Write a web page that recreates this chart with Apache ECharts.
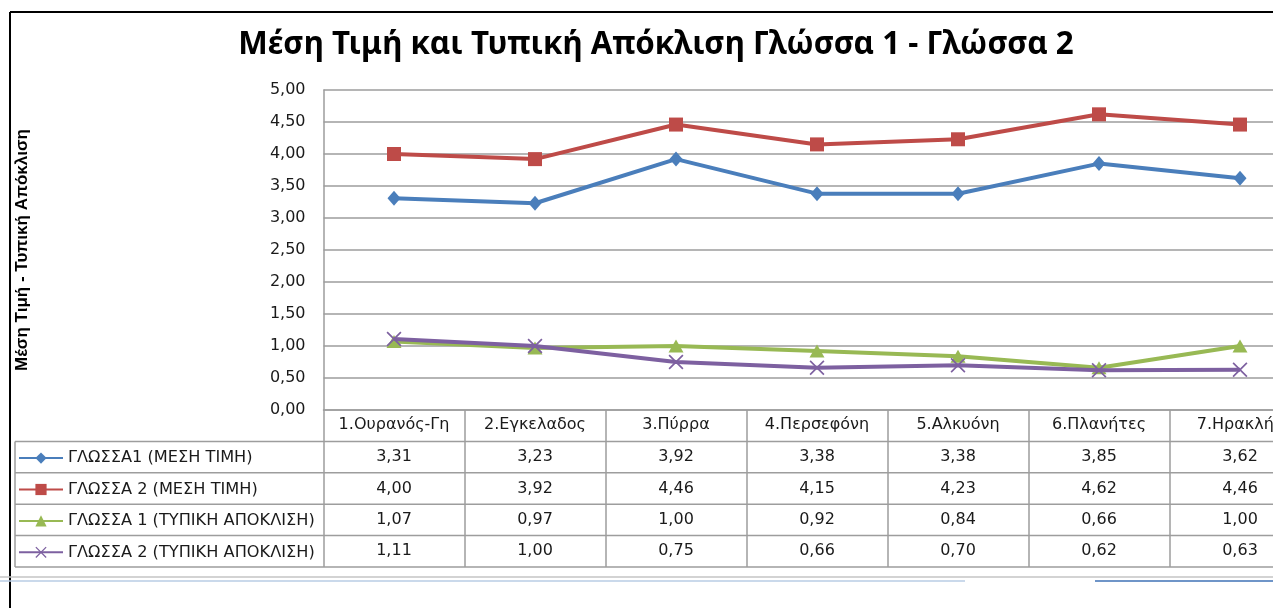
<!DOCTYPE html>
<html>
<head>
<meta charset="utf-8">
<script src="https://cdn.jsdelivr.net/npm/echarts@6/dist/echarts.min.js"></script>
<style>
  html, body { margin: 0; padding: 0; background: #ffffff; }
  #chart { width: 1273px; height: 608px; }
</style>
</head>
<body>
<div id="chart"></div>
<script>
// Categories (schools) and the four series shown in the chart and its data table
const categories = ['1.Ουρανός-Γη', '2.Εγκελαδος', '3.Πύρρα', '4.Περσεφόνη', '5.Αλκυόνη', '6.Πλανήτες', '7.Ηρακλής'];
const seriesNames = ['ΓΛΩΣΣΑ1 (ΜΕΣΗ ΤΙΜΗ)', 'ΓΛΩΣΣΑ 2 (ΜΕΣΗ ΤΙΜΗ)', 'ΓΛΩΣΣΑ 1 (ΤΥΠΙΚΗ ΑΠΟΚΛΙΣΗ)', 'ΓΛΩΣΣΑ 2 (ΤΥΠΙΚΗ ΑΠΟΚΛΙΣΗ)'];
const glossa1Mean = [3.31, 3.23, 3.92, 3.38, 3.38, 3.85, 3.62];
const glossa2Mean = [4.00, 3.92, 4.46, 4.15, 4.23, 4.62, 4.46];
const glossa1Sd   = [1.07, 0.97, 1.00, 0.92, 0.84, 0.66, 1.00];
const glossa2Sd   = [1.11, 1.00, 0.75, 0.66, 0.70, 0.62, 0.63];
const titleText = 'Μέση Τιμή και Τυπική Απόκλιση Γλώσσα 1 - Γλώσσα 2';
const yAxisTitle = 'Μέση Τιμή - Τυπική Απόκλιση';

const seriesValues = [glossa1Mean, glossa2Mean, glossa1Sd, glossa2Sd];

// Styling per series
const colors = ['#4a7ebb', '#be4b48', '#98b954', '#7d60a0'];
const xMark = 'path://M0,0.8L0.8,0L10,9.2L9.2,10Z M9.2,0L10,0.8L0.8,10L0,9.2Z';
const symbols = ['diamond', 'rect', 'triangle', xMark];
const symbolSizes = [[13, 15], 14, [15, 13], 15];

// Layout: the plot runs past the right edge of the page, so the last column is cut off
const gridLeft = 323.5, gridTop = 90, gridHeight = 320, gridWidth = 987;
const rowH = 31.4;
const gridLineColor = '#9d9d9d';
const textColor = '#1a1a1a';
const bodyFont = 'DejaVu Sans';
const bodySize = 16;

const fmt = v => v.toFixed(2).replace('.', ',');

const chart = echarts.init(document.getElementById('chart'), null, { renderer: 'canvas' });

const option = {
  backgroundColor: '#ffffff',
  animation: false,
  grid: { left: gridLeft, top: gridTop, width: gridWidth, height: gridHeight, outerBoundsMode: 'none' },
  xAxis: {
    type: 'category',
    data: categories,
    boundaryGap: true,
    axisLine: { show: true, lineStyle: { color: gridLineColor, width: 1.5 } },
    axisTick: { show: true, length: rowH * 5, lineStyle: { color: gridLineColor, width: 1.5 } },
    axisLabel: { interval: 0, margin: 7, fontFamily: bodyFont, fontSize: bodySize, color: textColor },
    splitLine: { show: false }
  },
  yAxis: {
    type: 'value',
    min: 0, max: 5, interval: 0.5,
    name: yAxisTitle,
    nameLocation: 'middle',
    nameRotate: 90,
    nameGap: 293,
    nameTextStyle: { fontFamily: 'Liberation Sans', fontWeight: 'bold', fontSize: 17, color: '#000' },
    axisLine: { show: true, lineStyle: { color: gridLineColor, width: 1.5 } },
    axisTick: { show: false },
    axisLabel: { margin: 18, fontFamily: bodyFont, fontSize: bodySize, color: textColor, formatter: v => fmt(v) },
    splitLine: { show: true, lineStyle: { color: gridLineColor, width: 1.5 } }
  },
  legend: seriesNames.map((n, i) => ({
    data: [n],
    left: 18,
    top: gridTop + gridHeight + rowH * (i + 1) + rowH / 2 - 7,
    padding: 0,
    itemWidth: 44,
    itemHeight: 14,
    itemGap: 0,
    selectedMode: false,
    textStyle: { fontFamily: bodyFont, fontSize: 16.2, color: textColor }
  })),
  series: seriesValues.map((vals, i) => ({
    name: seriesNames[i],
    type: 'line',
    data: vals,
    symbol: symbols[i],
    symbolSize: symbolSizes[i],
    showAllSymbol: true,
    lineStyle: { color: colors[i], width: 4 },
    itemStyle: { color: colors[i] },
    z: 2 + i
  }))
};

chart.setOption(option);

// Data table body, outer frame and title, placed from the axis scales
const y0 = chart.convertToPixel({ yAxisIndex: 0 }, 0);
const colWidth = chart.convertToPixel({ xAxisIndex: 0 }, 1) - chart.convertToPixel({ xAxisIndex: 0 }, 0);
const xLeftEdge = chart.convertToPixel({ xAxisIndex: 0 }, 0) - colWidth / 2;
const xRightEdge = xLeftEdge + colWidth * categories.length;
const graphics = [];

for (let r = 1; r <= seriesNames.length + 1; r++) {
  const y = y0 + rowH * r;
  graphics.push({ type: 'line', shape: { x1: 15, y1: y, x2: xRightEdge, y2: y }, style: { stroke: gridLineColor, lineWidth: 1.5 }, silent: true });
}
graphics.push({ type: 'line', shape: { x1: 15, y1: y0 + rowH, x2: 15, y2: y0 + rowH * 5 }, style: { stroke: gridLineColor, lineWidth: 1.5 }, silent: true });

categories.forEach((c, i) => {
  const x = chart.convertToPixel({ xAxisIndex: 0 }, i);
  seriesValues.forEach((vals, r) => {
    graphics.push({
      type: 'text', x: x, y: y0 + rowH * (r + 1) + rowH / 2, silent: true,
      style: { text: fmt(vals[i]), align: 'center', verticalAlign: 'middle', fontFamily: bodyFont, fontSize: bodySize, fill: textColor }
    });
  });
});

// Title
graphics.push({
  type: 'text', x: 656, y: 45, silent: true,
  style: { text: titleText, align: 'center', verticalAlign: 'middle', fontFamily: 'Noto Sans', fontWeight: 'bold', fontSize: 31.3, fill: '#000' }
});

// Chart frame (left and top edges)
graphics.push({ type: 'line', shape: { x1: 10, y1: 12, x2: 10, y2: 608 }, style: { stroke: '#000', lineWidth: 2 }, silent: true });
graphics.push({ type: 'line', shape: { x1: 10, y1: 12, x2: 1273, y2: 12 }, style: { stroke: '#000', lineWidth: 2 }, silent: true });

// Worksheet edge below the chart
graphics.push({ type: 'line', shape: { x1: 0, y1: 577, x2: 1273, y2: 577 }, style: { stroke: '#c4c4c4', lineWidth: 1.5 }, silent: true });
graphics.push({ type: 'line', shape: { x1: 0, y1: 581, x2: 965, y2: 581 }, style: { stroke: '#b9cde5', lineWidth: 1.5 }, silent: true });
graphics.push({ type: 'line', shape: { x1: 1095, y1: 581, x2: 1273, y2: 581 }, style: { stroke: '#6f95c8', lineWidth: 2 }, silent: true });

chart.setOption({ graphic: { elements: graphics } });
</script>
</body>
</html>
